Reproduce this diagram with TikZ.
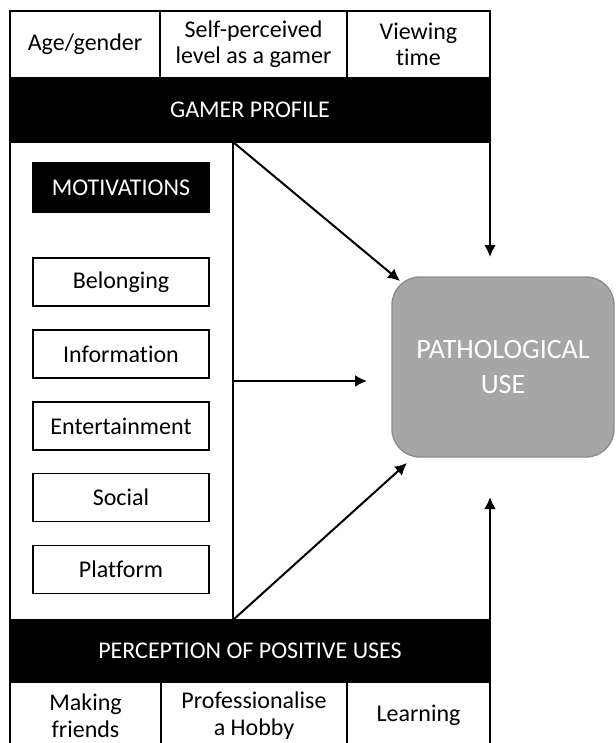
\documentclass[tikz,border=0pt]{standalone}
\usepackage{fontspec}
\setmainfont[Ligatures=NoCommon]{Carlito}
\usetikzlibrary{arrows.meta}

\begin{document}
\begin{tikzpicture}[x=0.5pt,y=-0.5pt,line width=0.7pt,
	cell/.style={draw,fill=white,inner sep=0pt,outer sep=0pt,align=center,font=\fontsize{12}{13}\selectfont},
	band/.style={draw,fill=black,text=white,inner sep=0pt,outer sep=0pt,minimum width=240pt,font=\fontsize{12}{13}\selectfont},
	motive/.style={cell,minimum width=88pt,minimum height=24pt},
	arr/.style={-{Latex[length=6pt,width=6pt]},line width=1pt},
	varr/.style={arr,line width=1.3pt}]
	\def\rh{33.5pt}	%height of top and bottom rows
	
	%FRAME
	\useasboundingbox (0,0) rectangle (615,743);
	\clip (0,0) rectangle (615,743);
	
	%MOTIVATIONS
	\node[cell,minimum width=111.5pt,minimum height=239pt] (panel) at (121.5,381) {};
	\node[band,minimum width=88pt,minimum height=24.5pt] (motivations) at (121,187.5) {MOTIVATIONS};
	\foreach \y/\t [count=\i] in {282/Belonging,354/Information,426/Entertainment,497.5/Social,569.5/Platform}
		\node[motive] (m\i) at (121,\y) {\t};
	
	%GAMER PROFILE
	\node[cell,minimum width=75pt,minimum height=\rh] (age) at (85,44.5) {Age/gender};
	\node[cell,minimum width=93.5pt,minimum height=\rh] (level) at (253.5,44.5) {Self-perceived\\level as a gamer};
	\node[cell,minimum width=71.5pt,minimum height=\rh] (viewing) at (418.5,44.5) {Viewing\\time};
	\node[band,minimum height=32pt] (profile) at (250,110) {GAMER PROFILE};
	
	%POSITIVE USES
	\node[band,minimum height=31pt] (positive) at (250,651) {PERCEPTION OF POSITIVE USES};
	\node[cell,minimum width=75.5pt,minimum height=\rh,font=\fontsize{12}{13.5}\selectfont] (friends) at (85.5,715.5) {Making\\friends};
	\node[cell,minimum width=93pt,minimum height=\rh,font=\fontsize{12}{13.5}\selectfont] (hobby) at (254,715.5) {Professionalise\\a Hobby};
	\node[cell,minimum width=71.5pt,minimum height=\rh] (learning) at (418.5,715.5) {Learning};
	
	%PATHOLOGICAL USE
	\node[draw=black!45,fill=black!35,text=white,rounded corners=14pt,minimum width=111pt,minimum height=90pt,
		align=center,font=\fontsize{14}{17.5}\selectfont] (patho) at (503,367) {PATHOLOGICAL\\USE};
	
	%ARROWS
	\coordinate (t1) at (400,281);
	\coordinate (t2) at (367,381);
	\coordinate (t3) at (407,463);
	\coordinate (t4) at (490,257);
	\coordinate (t5) at (490,497);
	\draw[arr] (panel.north east) -- (t1);
	\draw[arr] (panel.east) -- (t2);
	\draw[arr] (panel.south east) -- (t3);
	\draw[varr] (profile.south east) -- (t4);
	\draw[varr] (positive.north east) -- (t5);
\end{tikzpicture}
\end{document}
